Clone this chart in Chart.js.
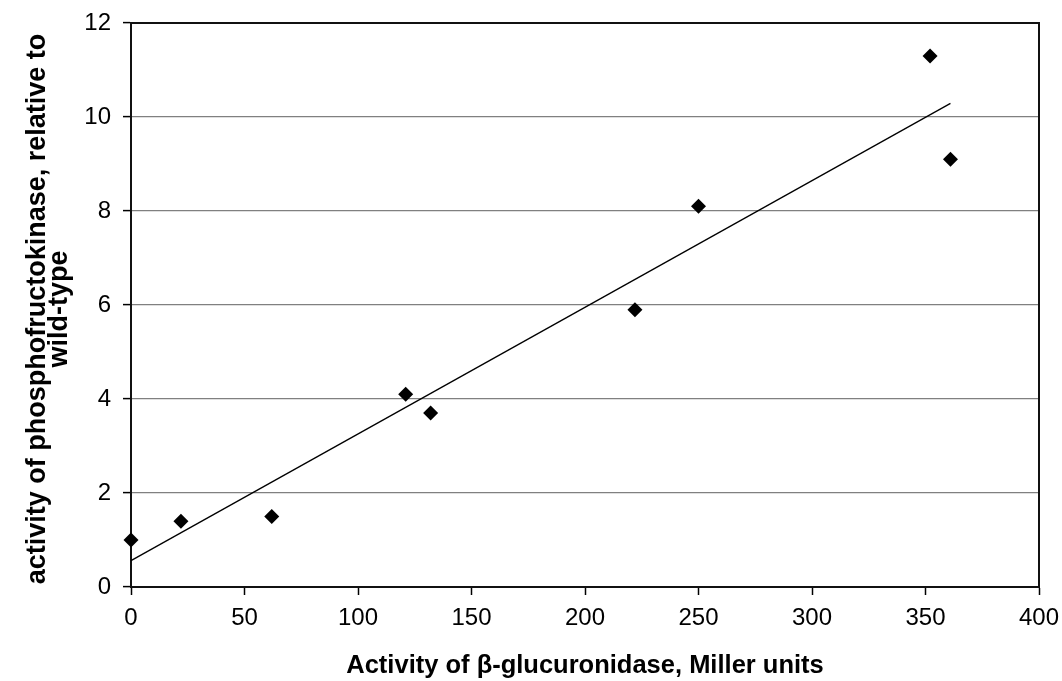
<!DOCTYPE html>
<html>
<head>
<meta charset="utf-8">
<script src="https://cdn.jsdelivr.net/npm/chart.js@4/dist/chart.umd.min.js"></script>
<style>
  html, body { margin: 0; padding: 0; background: #ffffff; }
  #wrap { width: 1062px; height: 681px; }
</style>
</head>
<body>
<div id="wrap"><canvas id="c" width="1062" height="681"></canvas></div>
<script>
// ---- data ----
const glucuronidase = [0, 22, 62, 121, 132, 222, 250, 352, 361];   // Miller units
const pfkActivity   = [1.0, 1.4, 1.5, 4.1, 3.7, 5.9, 8.1, 11.3, 9.1];
const trendX = [0, 361];
const trendY = [0.56, 10.29];
const xTicks = [0, 50, 100, 150, 200, 250, 300, 350, 400];
const yTicks = [0, 2, 4, 6, 8, 10, 12];
const xTitle = 'Activity of \u03B2-glucuronidase, Miller units';
const yTitleLines = ['activity of phosphofructokinase, relative to', 'wild-type'];

const FONT = "'Liberation Sans', Arial, sans-serif";

const points = glucuronidase.map((x, i) => ({ x: x, y: pfkActivity[i] }));
const trend = trendX.map((x, i) => ({ x: x, y: trendY[i] }));

const framePlugin = {
  id: 'frame',
  afterDraw(chart) {
    const { ctx, chartArea: a } = chart;
    ctx.save();
    ctx.strokeStyle = '#111';
    ctx.lineWidth = 2;
    ctx.beginPath();
    ctx.moveTo(a.left, a.top);
    ctx.lineTo(a.right, a.top);
    ctx.lineTo(a.right, a.bottom);
    ctx.stroke();
    // y axis title (two rotated lines)
    ctx.fillStyle = '#000';
    ctx.font = 'bold 27px ' + FONT;
    ctx.textAlign = 'center';
    ctx.textBaseline = 'alphabetic';
    const cy = (a.top + a.bottom) / 2 + 4;
    const baselines = [45, 67];
    yTitleLines.forEach((t, i) => {
      ctx.save();
      ctx.translate(baselines[i], cy);
      ctx.rotate(-Math.PI / 2);
      ctx.fillText(t, 0, 0);
      ctx.restore();
    });
    ctx.restore();
  }
};

new Chart(document.getElementById('c'), {
  type: 'scatter',
  data: {
    datasets: [
      {
        label: 'data',
        data: points,
        pointStyle: 'rectRot',
        pointRadius: 7.5,
        pointBackgroundColor: '#000',
        pointBorderColor: '#000',
        pointBorderWidth: 0,
        showLine: false,
        clip: false,
        order: 1
      },
      {
        label: 'trend',
        type: 'line',
        data: trend,
        borderColor: '#000',
        borderWidth: 1.3,
        pointRadius: 0,
        fill: false,
        tension: 0,
        clip: false,
        order: 2
      }
    ]
  },
  options: {
    responsive: false,
    animation: false,
    events: [],
    layout: { padding: { top: 23, right: 23, left: 0, bottom: 0 } },
    plugins: { legend: { display: false }, tooltip: { enabled: false } },
    scales: {
      x: {
        type: 'linear',
        min: xTicks[0],
        max: xTicks[xTicks.length - 1],
        afterBuildTicks: (s) => { s.ticks = xTicks.map(v => ({ value: v })); },
        afterFit: (s) => { s.height = 94; s.paddingLeft = 0; s.paddingRight = 0; },
        ticks: { color: '#000', font: { family: FONT, size: 24 }, padding: 9, maxRotation: 0 },
        grid: { drawOnChartArea: false, drawTicks: true, tickLength: 8, tickColor: '#000', tickWidth: 1.5 },
        border: { display: true, color: '#111', width: 2 },
        title: {
          display: true,
          text: xTitle,
          color: '#000',
          font: { family: FONT, size: 25.5, weight: 'bold' },
          padding: { top: 0, bottom: 0 }
        }
      },
      y: {
        type: 'linear',
        min: yTicks[0],
        max: yTicks[yTicks.length - 1],
        afterBuildTicks: (s) => { s.ticks = yTicks.map(v => ({ value: v })); },
        afterFit: (s) => { s.width = 131; s.paddingTop = 0; s.paddingBottom = 0; },
        ticks: { color: '#000', font: { family: FONT, size: 24 }, padding: 12 },
        grid: { color: '#808080', lineWidth: 1.2, drawTicks: true, tickLength: 8, tickColor: '#000', tickWidth: 1.5 },
        border: { display: true, color: '#111', width: 2 }
      }
    }
  },
  plugins: [framePlugin]
});
</script>
</body>
</html>
